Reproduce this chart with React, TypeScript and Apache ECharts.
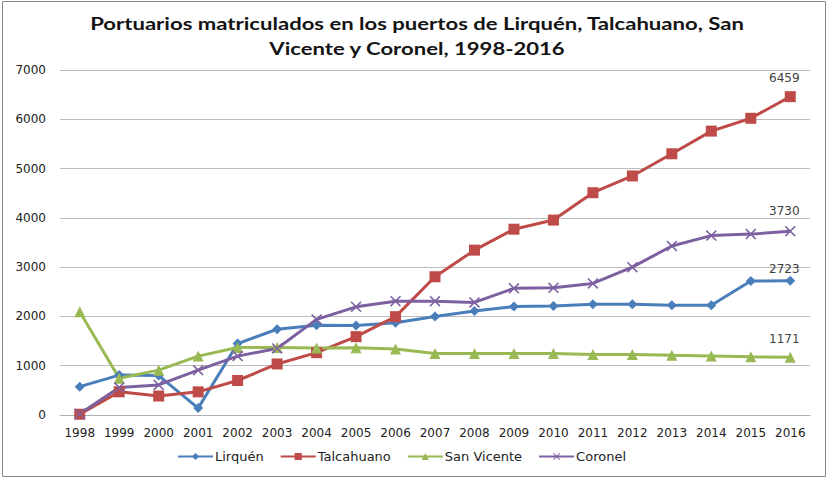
import React, { useEffect, useRef } from "react";
import * as echarts from "echarts";

const titleLines = [
  "Portuarios matriculados en los puertos de Lirquén, Talcahuano, San",
  "Vicente y Coronel, 1998-2016",
];
const years = ["1998","1999","2000","2001","2002","2003","2004","2005","2006","2007","2008","2009","2010","2011","2012","2013","2014","2015","2016"];
const lirquen = [575, 810, 800, 140, 1450, 1740, 1820, 1815, 1870, 2000, 2110, 2200, 2210, 2245, 2245, 2225, 2225, 2720, 2723];
const talcahuano = [15, 470, 385, 470, 700, 1035, 1265, 1590, 1995, 2805, 3345, 3770, 3955, 4510, 4850, 5300, 5760, 6020, 6459];
const sanVicente = [2095, 745, 910, 1195, 1370, 1370, 1360, 1365, 1340, 1250, 1250, 1250, 1250, 1230, 1230, 1210, 1195, 1180, 1171];
const coronel = [25, 560, 610, 910, 1195, 1350, 1940, 2195, 2310, 2310, 2285, 2570, 2580, 2670, 3000, 3430, 3640, 3670, 3730];
const seriesNames = ["Lirquén", "Talcahuano", "San Vicente", "Coronel"];

const X_SYMBOL = "path://M0,1L1,0L5,4L9,0L10,1L6,5L10,9L9,10L5,6L1,10L0,9L4,5Z";

export default function App() {
  const ref = useRef<HTMLDivElement>(null);
  useEffect(() => {
    if (!ref.current) return;
    const chart = echarts.init(ref.current, null, { renderer: "svg" });
    const font = "DejaVu Sans";
    const lastLabel = (offset: number[]) => ({
      show: true,
      position: "top",
      offset,
      color: "#404040",
      fontFamily: font,
      fontSize: 12,
      formatter: (p: any) => (p.dataIndex === years.length - 1 ? String(p.value) : ""),
    });
    const mk = (name: string, data: number[], color: string, symbol: string, size: number, offset: number[]) => ({
      name,
      type: "line",
      data,
      symbol,
      symbolSize: size,
      showAllSymbol: true,
      lineStyle: { color, width: 3 },
      itemStyle: { color },
      label: lastLabel(offset),
      z: 2,
    });
    const titleText = (text: string, y: number) => ({
      type: "text",
      x: 417,
      y,
      scaleX: 1.3,
      silent: true,
      style: {
        text,
        x: 0,
        y: 0,
        textAlign: "center",
        textVerticalAlign: "middle",
        fontFamily: "Lato",
        fontWeight: "bold",
        fontSize: 17,
        fill: "#141414",
      },
    });
    chart.setOption({
      animation: false,
      textStyle: { fontFamily: font },
      graphic: [
        {
          type: "rect",
          shape: { x: 2.5, y: 1.5, width: 823, height: 475 },
          style: { fill: "none", stroke: "#8a8a8a", lineWidth: 1 },
          silent: true,
        },
        titleText(titleLines[0], 24),
        titleText(titleLines[1], 49),
      ],
      grid: { left: 60, right: 19, top: 70, bottom: 63 },
      legend: {
        bottom: 10,
        left: 172,
        itemGap: 16,
        itemWidth: 35,
        itemHeight: 9,
        textStyle: { fontFamily: font, fontSize: 13, color: "#222", padding: [0, 0, 0, -3] },
        data: seriesNames,
      },
      xAxis: {
        type: "category",
        data: years,
        boundaryGap: true,
        axisLine: { lineStyle: { color: "#b0b0b0", width: 1 } },
        axisTick: { show: false },
        axisLabel: { color: "#222", fontFamily: font, fontSize: 12, margin: 12, interval: 0 },
      },
      yAxis: {
        type: "value",
        min: 0,
        max: 7000,
        interval: 1000,
        axisLine: { show: false },
        axisTick: { show: false },
        axisLabel: { color: "#222", fontFamily: font, fontSize: 12, margin: 14, formatter: (v: number) => String(v) },
        splitLine: { lineStyle: { color: "#bcbcbc", width: 1 } },
      },
      series: [
        mk(seriesNames[0], lirquen, "#4a7ebb", "diamond", 10, [-6, 4]),
        mk(seriesNames[1], talcahuano, "#be4b48", "rect", 11, [-6, -2]),
        mk(seriesNames[2], sanVicente, "#98b954", "triangle", 11, [-6, -2]),
        mk(seriesNames[3], coronel, "#7d60a0", X_SYMBOL, 11, [-6, -4]),
      ],
    });
    return () => chart.dispose();
  }, []);
  return <div ref={ref} style={{ width: 829, height: 478, position: "absolute", left: 0, top: 0, background: "#fff" }} />;
}
